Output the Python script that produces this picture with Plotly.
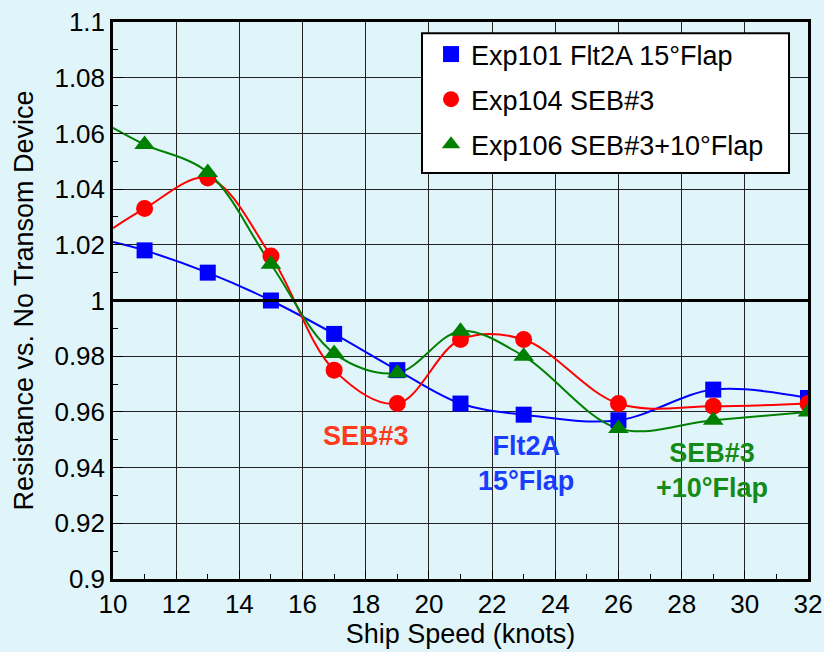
import plotly.graph_objects as go

speeds = [11, 13, 15, 17, 19, 21, 23, 26, 29, 32]
flt2a = [1.018, 1.010, 1.000, 0.988, 0.975, 0.963, 0.959, 0.957, 0.968, 0.965]
seb3 = [1.033, 1.044, 1.016, 0.975, 0.963, 0.986, 0.986, 0.963, 0.962, 0.963]
seb3flap = [1.056, 1.046, 1.013, 0.981, 0.974, 0.989, 0.980, 0.954, 0.957, 0.960]
# curve values at the left edge of the axis (x = 10)
curve_start_x = 10
flt2a_start = 1.021
seb3_start = 1.026
seb3flap_start = 1.062

names = ["Exp101 Flt2A 15°Flap", "Exp104 SEB#3", "Exp106 SEB#3+10°Flap"]
colors = ["#0000ff", "#ff0000", "#008000"]
symbols = ["square", "circle", "triangle-up"]
msizes = [16, 17, 18]
series = [flt2a, seb3, seb3flap]
starts = [flt2a_start, seb3_start, seb3flap_start]

FONT = "Liberation Sans, Arial, Helvetica, sans-serif"

fig = go.Figure()
for s, st, c in zip(series, starts, colors):
    fig.add_trace(go.Scatter(x=[curve_start_x] + speeds, y=[st] + s, mode="lines",
                             line=dict(color=c, width=2, shape="spline", smoothing=1.0),
                             showlegend=False, hoverinfo="skip"))
for i, (s, n, c, sym, ms) in enumerate(zip(series, names, colors, symbols, msizes)):
    fig.add_trace(go.Scatter(x=speeds, y=s, mode="markers", name=n, legendgroup=f"g{i}",
                             marker=dict(color=c, symbol=sym, size=ms, line=dict(width=0))))

fig.add_shape(type="line", xref="x", yref="y", x0=10, x1=32, y0=1, y1=1,
              line=dict(color="black", width=3), layer="above")
# legend frame
fig.add_shape(type="rect", xref="paper", yref="paper", x0=0.4446, x1=0.9727, y0=0.7289, y1=0.980,
              line=dict(color="black", width=2), fillcolor="white", layer="above")

ann_font = dict(family=FONT, size=27)
fig.add_annotation(x=18.01, y=0.9515, text="<b>SEB#3</b>", showarrow=False,
                   font=dict(ann_font, color="#ff3a1a"))
fig.add_annotation(x=23.07, y=0.9413, text="<b>Flt2A<br>15°Flap</b>", showarrow=False,
                   font=dict(ann_font, color="#1a3cff"))
fig.add_annotation(x=28.96, y=0.9391, text="<b>SEB#3<br>+10°Flap</b>", showarrow=False,
                   font=dict(ann_font, color="#168a16"))

bg = "#e0f5fa"
fig.update_layout(
    width=824, height=652,
    paper_bgcolor=bg, plot_bgcolor=bg,
    margin=dict(l=113, r=16, t=22, b=73, autoexpand=False),
    font=dict(family=FONT, size=26, color="black"),
    legend=dict(x=0.4576, y=0.9856, xanchor="left", yanchor="top",
                bgcolor="rgba(0,0,0,0)", borderwidth=0,
                font=dict(size=27), itemsizing="trace", tracegroupgap=7),
    xaxis=dict(range=[10, 32], dtick=2, showgrid=True, gridcolor="#222222", gridwidth=1.2,
               showline=True, linecolor="black", linewidth=2.5, mirror=True, automargin=False,
               ticks="inside", ticklen=8, tickcolor="black",
               minor=dict(dtick=1, ticks="inside", ticklen=5, tickcolor="black", showgrid=False),
               title=dict(text="Ship Speed (knots)", standoff=0, font=dict(size=27)), zeroline=False),
    yaxis=dict(range=[0.9, 1.1], showgrid=True, gridcolor="#222222", gridwidth=1.2,
               showline=True, linecolor="black", linewidth=2.5, mirror=True, automargin=False,
               ticks="inside", ticklen=10, tickcolor="black",
               tickvals=[0.9, 0.92, 0.94, 0.96, 0.98, 1.0, 1.02, 1.04, 1.06, 1.08, 1.1],
               ticktext=["0.9", "0.92", "0.94", "0.96", "0.98", "1", "1.02", "1.04", "1.06", "1.08", "1.1"],
               minor=dict(dtick=0.01, ticks="inside", ticklen=5, tickcolor="black", showgrid=False),
               title=dict(text="Resistance vs. No Transom Device", standoff=13, font=dict(size=27)),
               zeroline=False),
)
fig.write_html("out.html", config={"displayModeBar": False},
               post_script="document.body.style.margin='0';document.body.style.overflow='hidden';")
